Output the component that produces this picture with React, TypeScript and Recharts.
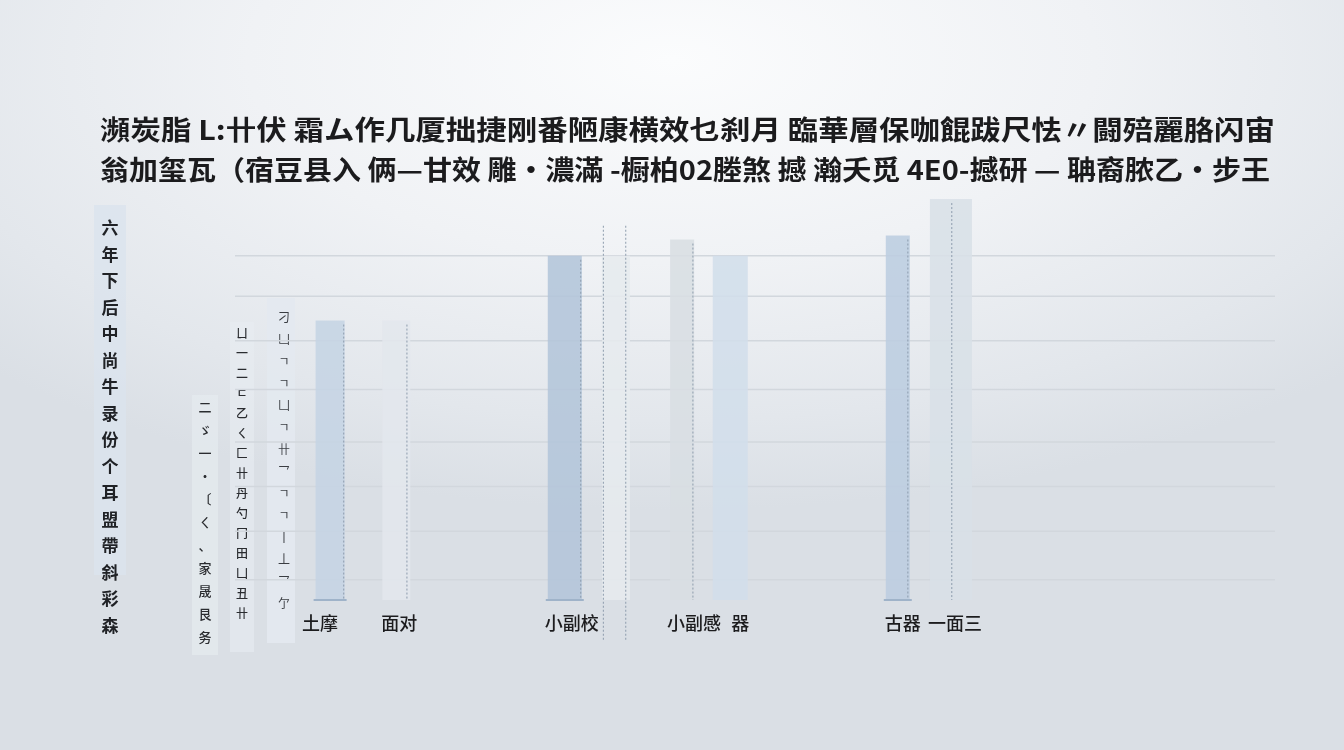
import React from "react";
import { BarChart, Bar, XAxis, YAxis, CartesianGrid, Cell } from "recharts";

// values (0-100 scale, hidden axis)
const CATEGORIES = ["土摩", "面对", "", "", "小副校", "", "小副感", "器", "", "", "古器", "一面三"];
const VALUES = [69, 69, null, null, 85, 85, 89, 85, null, null, 90, 99];
const GRID_TICKS = [5, 17, 28, 39, 52, 64, 75, 85];

const TITLE_LINES = [
  "瀕炭脂 L:卄伏 霜ム作几厦拙捷刚番陋康横效乜刹月 臨華層保咖餛跋尺怯〃闘殕麗胳闪宙",
  "翁加玺瓦（宿豆县入 俩—甘效 雕·濃滿 -橱柏02塍煞 撼 瀚夭觅 4E0-撼研 — 聃裔脓乙·步王",
];
const Y_LABEL = "六年下后中尚牛录份个耳盟帶斜彩森";
const SIDE_COLUMNS = ["二ゞ一·〔ㄑ、家晟艮务", "ㄩ一二ㄷ乙ㄑ匚卄丹勺冂田凵丑卄", "刁凵ㄱㄱ凵ㄱ卄乛ㄱㄱ丨丄乛亇"];

// styling per slot
const BAR_FILLS = ["#c5d4e4", "#e2e7ed", "", "", "#b3c5d9", "#e6eaee", "#d8dee3", "#d2deeb", "", "", "#bccde0", "#d8e0e7"];
const BAR_WIDTHS = [29, 28, 0, 0, 34, 28, 24, 35, 0, 0, 24, 42];
const BAR_SHIFT = [-7, 3, 0, 0, 3, -2, 8, 0, 0, 0, -1, -4];
const LABEL_SHIFT = [-17, 6, 0, 0, 10, 0, 20, 10, 0, 0, 4, 0];
const DASH_POS: number[][] = [[0.97], [0.88], [], [], [0.97], [0.05, 0.85], [0.95], [], [], [], [0.92], [0.52]];
const BASE_LINE = [true, false, false, false, true, false, false, false, false, false, true, false];

const data = CATEGORIES.map((name, i) => ({ name, value: VALUES[i], slot: i }));

function BarShape(props: any) {
  const { x, y, width, height, payload } = props;
  const i = payload?.slot ?? props.index;
  if (!height || !BAR_WIDTHS[i]) return null;
  const w = BAR_WIDTHS[i];
  const left = x + width / 2 - w / 2 + BAR_SHIFT[i];
  const bottom = y + height;
  const longDash = i === 5;
  return (
    <g>
      <rect x={left} y={y} width={w} height={height} fill={BAR_FILLS[i]} fillOpacity={0.88} />
      {DASH_POS[i].map((p, k) => (
        <line
          key={k}
          x1={left + w * p}
          x2={left + w * p}
          y1={longDash ? y - 30 : y + 4}
          y2={longDash ? bottom + 40 : bottom}
          stroke="#8c9bac"
          strokeWidth={1}
          strokeDasharray="2 2"
        />
      ))}
      {BASE_LINE[i] && (
        <line x1={left - 2} x2={left + w + 2} y1={bottom} y2={bottom} stroke="#9fb3c9" strokeWidth={2} />
      )}
    </g>
  );
}

function CategoryTick(props: any) {
  const { x, y, payload, index } = props;
  const i = payload?.index ?? index;
  if (!payload?.value) return null;
  return (
    <text
      x={x + (LABEL_SHIFT[i] || 0)}
      y={y + 14}
      textAnchor="middle"
      fontSize={18}
      fontWeight={500}
      fill="#1c1c1e"
      fontFamily="'Noto Sans CJK SC', sans-serif"
    >
      {payload.value}
    </text>
  );
}

function VerticalText({ text, x, y, step, size, color, weight }: any) {
  return (
    <g>
      {Array.from(text).map((ch: any, k: number) => (
        <text
          key={k}
          x={x}
          y={y + k * step}
          textAnchor="middle"
          fontSize={size}
          fill={color}
          fontWeight={weight}
          fontFamily="'Noto Sans CJK SC', sans-serif"
        >
          {ch}
        </text>
      ))}
    </g>
  );
}

export default function App() {
  return (
    <div
      style={{
        position: "fixed",
        left: 0,
        top: 0,
        width: 1344,
        height: 750,
        overflow: "hidden",
        background:
          "radial-gradient(ellipse 70% 60% at 50% 8%, #fbfcfd 0%, #f0f2f5 45%, #e3e7ec 80%, #dadfe5 100%)",
      }}
    >
      <svg width={1344} height={750} style={{ position: "absolute", left: 0, top: 0 }}>
        {TITLE_LINES.map((line, i) => (
          <text
            key={i}
            x={100}
            y={140 + i * 40}
            fontSize={27}
            fontWeight={700}
            fill="#1b1b1d"
            textLength={i === 0 ? 1175 : 1170}
            lengthAdjust="spacingAndGlyphs"
            fontFamily="'Noto Sans CJK SC', sans-serif"
          >
            {line}
          </text>
        ))}
        <rect x={94} y={205} width={32} height={370} fill="#dbe4ee" opacity={0.8} />
        <VerticalText text={Y_LABEL} x={110} y={234} step={26.5} size={17} color="#202226" weight={700} />
        <rect x={192} y={395} width={26} height={260} fill="#e6ebf0" opacity={0.7} />
        <VerticalText text={SIDE_COLUMNS[0]} x={205} y={412} step={23} size={13} color="#2a2c30" weight={500} />
        <rect x={230} y={322} width={24} height={330} fill="#e8edf2" opacity={0.6} />
        <VerticalText text={SIDE_COLUMNS[1]} x={242} y={338} step={20} size={12} color="#2a2c30" weight={500} />
        <rect x={267} y={298} width={28} height={345} fill="#e3e9f0" opacity={0.9} />
        <VerticalText text={SIDE_COLUMNS[2]} x={284} y={322} step={22} size={12} color="#3a3d42" weight={400} />
      </svg>
      <div style={{ position: "absolute", left: 0, top: 0 }}>
        <BarChart
          width={1344}
          height={750}
          data={data}
          margin={{ top: 195, right: 69, bottom: 120, left: 235 }}
          barCategoryGap="10%"
        >
          <CartesianGrid vertical={false} stroke="#d2d7dd" strokeWidth={1.5} syncWithTicks />
          <YAxis hide domain={[0, 100]} ticks={GRID_TICKS} />
          <XAxis
            dataKey="name"
            axisLine={false}
            tickLine={false}
            interval={0}
            tickMargin={10}
            padding={{ left: 74, right: 292 }}
            tick={<CategoryTick />}
          />
          <Bar dataKey="value" shape={<BarShape />} isAnimationActive={false}>
            {data.map((d) => (
              <Cell key={d.slot} fill={BAR_FILLS[d.slot] || "transparent"} />
            ))}
          </Bar>
        </BarChart>
      </div>
    </div>
  );
}
